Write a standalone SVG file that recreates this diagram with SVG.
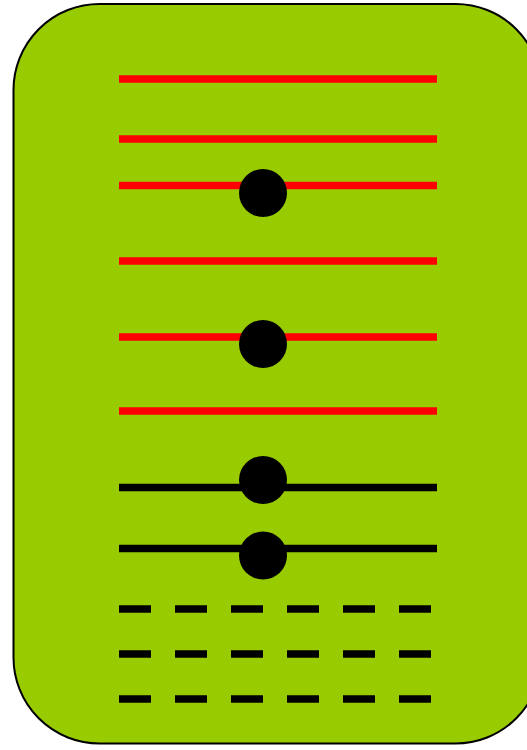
<svg xmlns="http://www.w3.org/2000/svg" width="527" height="750" viewBox="0 0 527 750">
<style>
.red{stroke:#ff0000;stroke-width:7.5;fill:none}
.blk{stroke:#000;stroke-width:7.5;fill:none}
.dash{stroke:#000;stroke-width:7.5;fill:none;stroke-dasharray:32 24}
.dot{fill:#000}
</style>
<g id="background">
<rect x="13.5" y="4" width="528" height="739.5" rx="86" ry="86" fill="#99cc00" stroke="#000" stroke-width="2"/>
</g>
<g id="connectors">
<line class="red" x1="119" y1="79" x2="437" y2="79"/>
<line class="red" x1="119" y1="139" x2="437" y2="139"/>
<line class="red" x1="119" y1="185.5" x2="437" y2="185.5"/>
<line class="red" x1="119" y1="261" x2="437" y2="261"/>
<line class="red" x1="119" y1="337" x2="437" y2="337"/>
<line class="red" x1="119" y1="411" x2="437" y2="411"/>
<line class="blk" x1="119" y1="487.5" x2="437" y2="487.5"/>
<line class="blk" x1="119" y1="548.5" x2="437" y2="548.5"/>
<line class="dash" x1="119" y1="609" x2="437" y2="609"/>
<line class="dash" x1="119" y1="654" x2="437" y2="654"/>
<line class="dash" x1="119" y1="699" x2="437" y2="699"/>
</g>
<g id="dot1"><circle class="dot" cx="263" cy="193" r="24"/></g>
<g id="dot2"><circle class="dot" cx="263" cy="344" r="24"/></g>
<g id="dot3"><circle class="dot" cx="263" cy="480" r="24"/></g>
<g id="dot4"><circle class="dot" cx="263" cy="555.5" r="24"/></g>
</svg>
